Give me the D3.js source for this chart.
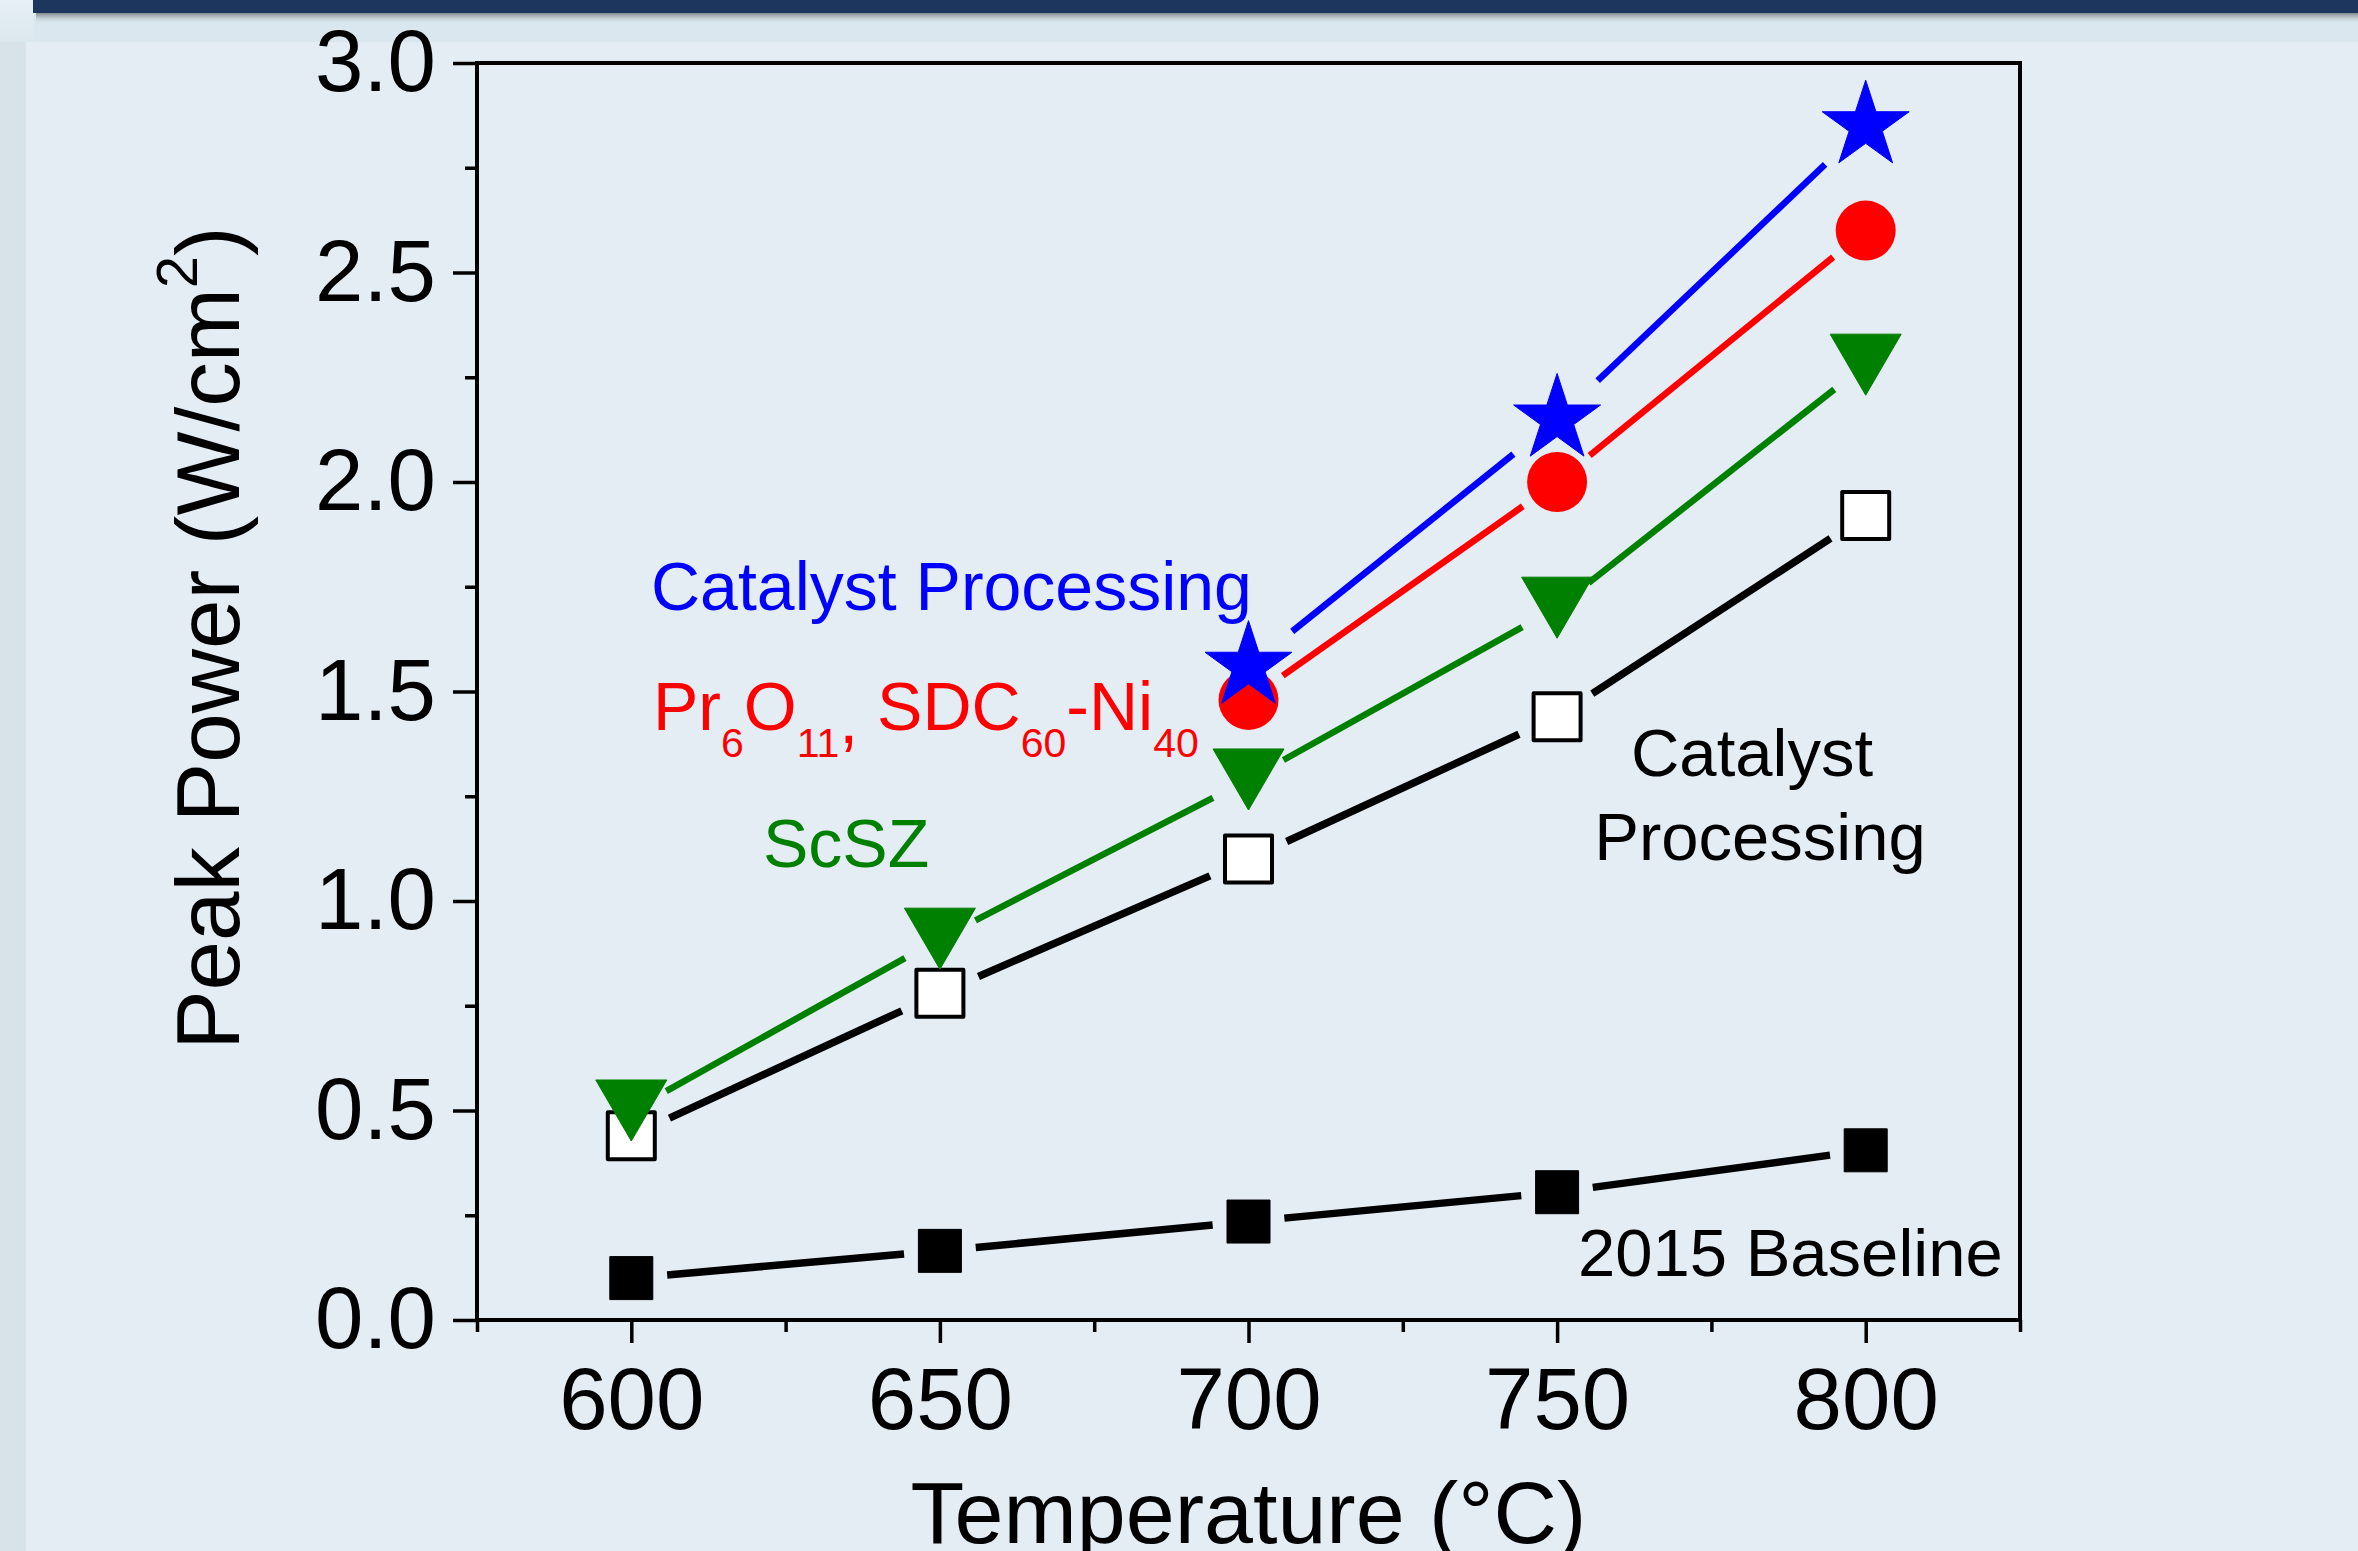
<!DOCTYPE html>
<html>
<head>
<meta charset="utf-8">
<script src="https://cdn.jsdelivr.net/npm/d3@7"></script>
<style>
  html, body { margin: 0; padding: 0; background: #e4ecf4; }
  svg { display: block; }
  text { font-family: "Liberation Sans", Arial, Helvetica, sans-serif; }
</style>
</head>
<body>
<svg id="chart" width="2358" height="1551"></svg>
<script>
// ---------------- data ----------------
const temps = [600, 650, 700, 750, 800];
const baseline2015 = [0.10, 0.165, 0.235, 0.305, 0.405];
const catalystProcessingBlack = [0.44, 0.78, 1.10, 1.44, 1.92];
const scszValues = [0.50, 0.91, 1.29, 1.70, 2.28];
const prTemps = [700, 750, 800];
const prValues = [1.48, 2.00, 2.60];
const starTemps = [700, 750, 800];
const starValues = [1.56, 2.15, 2.85];

const xTickValues = [600, 650, 700, 750, 800];
const xMinorTicks = [575, 625, 675, 725, 775, 825];
const yTickValues = [0.0, 0.5, 1.0, 1.5, 2.0, 2.5, 3.0];
const yMinorTicks = [0.25, 0.75, 1.25, 1.75, 2.25, 2.75];
const xDomain = [575, 825];
const yDomain = [0, 3];

// ---------------- layout ----------------
const W = 2358, H = 1551;
const plot = { left: 477, right: 2020, top: 63, bottom: 1320 };
const svg = d3.select("#chart");

// background decorations
const defs = svg.append("defs");
const sh = defs.append("linearGradient").attr("id", "shadow").attr("x1", 0).attr("x2", 0).attr("y1", 0).attr("y2", 1);
sh.append("stop").attr("offset", "0%").attr("stop-color", "#7f878c").attr("stop-opacity", 1);
sh.append("stop").attr("offset", "100%").attr("stop-color", "#dae7ee").attr("stop-opacity", 0);
const corner = defs.append("linearGradient").attr("id", "corner").attr("x1", 0).attr("x2", 0).attr("y1", 0).attr("y2", 1);
corner.append("stop").attr("offset", "0%").attr("stop-color", "#e6f0f5");
corner.append("stop").attr("offset", "100%").attr("stop-color", "#dbe7ee");

svg.append("rect").attr("x", 0).attr("y", 0).attr("width", W).attr("height", H).attr("fill", "#e4ecf4");
svg.append("rect").attr("x", 0).attr("y", 0).attr("width", W).attr("height", 42).attr("fill", "#dae7ee");
svg.append("rect").attr("x", 0).attr("y", 0).attr("width", 34).attr("height", 42).attr("fill", "url(#corner)");
svg.append("rect").attr("x", 0).attr("y", 42).attr("width", 26).attr("height", H - 42).attr("fill", "#d7e3e9");
svg.append("rect").attr("x", 36).attr("y", 13).attr("width", W).attr("height", 11).attr("fill", "url(#shadow)");
svg.append("rect").attr("x", 33).attr("y", 0).attr("width", W).attr("height", 13).attr("fill", "#1c365d");

// ---------------- scales ----------------
const x = d3.scaleLinear().domain(xDomain).range([plot.left, plot.right]);
const y = d3.scaleLinear().domain(yDomain).range([plot.bottom, plot.top]);

const fontTick = 87;

// minor ticks
const gx = svg.append("g").attr("transform", `translate(0,${plot.bottom})`);
gx.call(d3.axisBottom(x).tickValues(xMinorTicks).tickSize(12).tickSizeOuter(0).tickFormat(""))
  .call(g => g.select(".domain").remove())
  .call(g => g.selectAll("line").attr("stroke", "#000").attr("stroke-width", 3.5));
const gx2 = svg.append("g").attr("transform", `translate(0,${plot.bottom})`);
gx2.call(d3.axisBottom(x).tickValues(xTickValues).tickSize(23).tickSizeOuter(0).tickFormat(d3.format("d")))
  .call(g => g.select(".domain").remove())
  .call(g => g.selectAll("line").attr("stroke", "#000").attr("stroke-width", 3.5))
  .call(g => g.selectAll("text").attr("y", 109).attr("dy", 0)
      .attr("fill", "#000").style("font-size", fontTick + "px")
      .style("font-family", '"Liberation Sans", Arial, sans-serif'));

const gy = svg.append("g").attr("transform", `translate(${plot.left},0)`);
gy.call(d3.axisLeft(y).tickValues(yMinorTicks).tickSize(12).tickSizeOuter(0).tickFormat(""))
  .call(g => g.select(".domain").remove())
  .call(g => g.selectAll("line").attr("stroke", "#000").attr("stroke-width", 3.5));
const gy2 = svg.append("g").attr("transform", `translate(${plot.left},0)`);
gy2.call(d3.axisLeft(y).tickValues(yTickValues).tickSize(24).tickSizeOuter(0).tickFormat(d3.format(".1f")))
  .call(g => g.select(".domain").remove())
  .call(g => g.selectAll("line").attr("stroke", "#000").attr("stroke-width", 3.5))
  .call(g => g.selectAll("text").attr("x", -41).attr("dy", "0.32em")
      .attr("fill", "#000").style("font-size", fontTick + "px")
      .style("font-family", '"Liberation Sans", Arial, sans-serif'));

// frame
svg.append("rect")
  .attr("x", x(xDomain[0])).attr("y", y(yDomain[1]))
  .attr("width", x(xDomain[1]) - x(xDomain[0]))
  .attr("height", y(yDomain[0]) - y(yDomain[1]))
  .attr("fill", "none").attr("stroke", "#000").attr("stroke-width", 4);

// ---------------- series ----------------
const triangleDown = {
  draw(ctx, size) {
    const w = Math.sqrt(size); // width
    const h = w * 0.86;
    ctx.moveTo(-w / 2, -h / 2);
    ctx.lineTo(w / 2, -h / 2);
    ctx.lineTo(0, h / 2);
    ctx.closePath();
  }
};

const series = [
  { xs: temps, ys: baseline2015, color: "#000", lw: 7.5, gap: 36,
    symbol: d3.symbolSquare, size: 43 * 43, fill: "#000", stroke: "#000", sw: 1 },
  { xs: temps, ys: catalystProcessingBlack, color: "#000", lw: 7.5, gap: 42,
    symbol: d3.symbolSquare, size: 47 * 47, fill: "#fff", stroke: "#000", sw: 4 },
  { xs: temps, ys: scszValues, color: "#008000", lw: 6.5, gap: 40,
    symbol: triangleDown, size: 71 * 71, fill: "#008000", stroke: "#008000", sw: 1 },
  { xs: prTemps, ys: prValues, color: "#ff0000", lw: 6.5, gap: 42,
    symbol: d3.symbolCircle, size: Math.PI * 30 * 30, fill: "#ff0000", stroke: "none", sw: 0 },
  { xs: starTemps, ys: starValues, color: "#0000ff", lw: 6.5, gap: 56,
    symbol: d3.symbolStar, size: 2345, fill: "#0000ff", stroke: "#0000ff", sw: 1 }
];

const lineGen = d3.line();
series.forEach(s => {
  const pts = s.xs.map((t, i) => [x(t), y(s.ys[i])]);
  const g = svg.append("g");
  for (let i = 0; i < pts.length - 1; i++) {
    const [x0, y0] = pts[i], [x1, y1] = pts[i + 1];
    const dx = x1 - x0, dy = y1 - y0, L = Math.hypot(dx, dy);
    const ux = dx / L, uy = dy / L;
    g.append("path")
      .attr("d", lineGen([[x0 + ux * s.gap, y0 + uy * s.gap], [x1 - ux * s.gap, y1 - uy * s.gap]]))
      .attr("stroke", s.color).attr("stroke-width", s.lw).attr("fill", "none");
  }
  g.selectAll("path.marker").data(pts).join("path")
    .attr("class", "marker")
    .attr("transform", d => `translate(${d[0]},${d[1]})`)
    .attr("d", d3.symbol().type(s.symbol).size(s.size))
    .attr("fill", s.fill)
    .attr("stroke", s.stroke)
    .attr("stroke-width", s.sw)
    .attr("stroke-linejoin", "round");
});

// ---------------- axis titles ----------------
svg.append("text")
  .attr("x", (plot.left + plot.right) / 2).attr("y", 1543)
  .attr("text-anchor", "middle").style("font-size", "88px").attr("fill", "#000")
  .text("Temperature (°C)");

const yt = svg.append("text")
  .attr("transform", "translate(239,638) rotate(-90)")
  .attr("text-anchor", "middle").style("font-size", "89px").attr("fill", "#000");
yt.append("tspan").text("Peak Power (W/cm");
yt.append("tspan").attr("dy", -42).style("font-size", "58px").text("2");
yt.append("tspan").attr("dy", 42).text(")");

// ---------------- annotations ----------------
svg.append("text").attr("x", 651).attr("y", 610).style("font-size", "68px")
  .attr("fill", "#0000ff").text("Catalyst Processing");

const red = svg.append("text").attr("x", 653).attr("y", 730).style("font-size", "68px").attr("fill", "#ff0000");
red.append("tspan").text("Pr");
red.append("tspan").attr("dy", 27).style("font-size", "41px").text("6");
red.append("tspan").attr("dy", -27).text("O");
red.append("tspan").attr("dy", 27).style("font-size", "41px").text("11");
red.append("tspan").attr("dy", -14).text(",");
red.append("tspan").attr("dy", -13).text(" SDC");
red.append("tspan").attr("dy", 27).style("font-size", "41px").text("60");
red.append("tspan").attr("dy", -27).text("-Ni");
red.append("tspan").attr("dy", 27).style("font-size", "41px").text("40");

svg.append("text").attr("x", 763).attr("y", 867).style("font-size", "68px")
  .attr("fill", "#008000").text("ScSZ");

svg.append("text").attr("x", 1752).attr("y", 776).attr("text-anchor", "middle")
  .style("font-size", "67px").attr("fill", "#000").text("Catalyst");
svg.append("text").attr("x", 1760).attr("y", 860).attr("text-anchor", "middle")
  .style("font-size", "67px").attr("fill", "#000").text("Processing");
svg.append("text").attr("x", 1578).attr("y", 1276)
  .style("font-size", "67px").attr("fill", "#000").text("2015 Baseline");
</script>
</body>
</html>
